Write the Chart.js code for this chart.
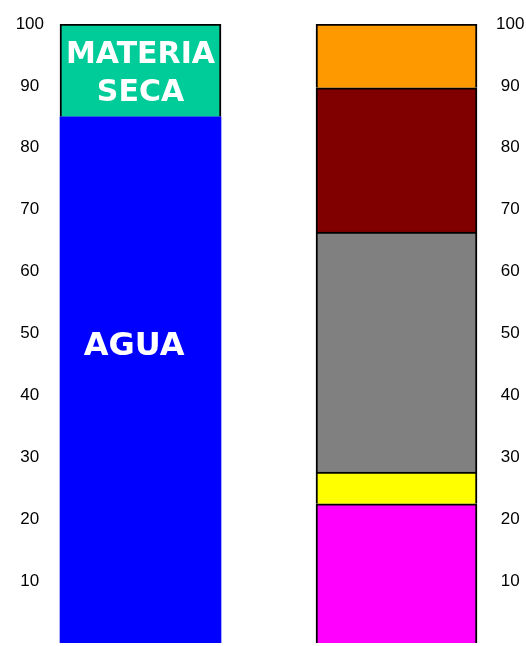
<!DOCTYPE html>
<html>
<head>
<meta charset="utf-8">
<script src="https://cdn.jsdelivr.net/npm/chart.js@4.4.0/dist/chart.umd.min.js"></script>
<style>
  html, body { margin: 0; padding: 0; background: #fff; }
  canvas { display: block; }
</style>
</head>
<body>
<canvas id="myChart" width="526" height="646"></canvas>
<script>
// column positions on the x scale
const columns = [0, 1];

// left column (%)
const agua = [85];
const materiaSeca = [15];

// right column, bottom to top (%)
const rightNames = ['magenta', 'amarillo', 'gris', 'granate', 'naranja'];
const rightValues = [22.5, 5.1, 38.8, 23.3, 10.3];
const rightColors = ['#FF00FF', '#FFFF00', '#808080', '#800000', '#FF9900'];

// y axis
const yMin = 0, yMax = 100, yStep = 10;

// text written inside the left column
const textLabels = [
  { text: 'MATERIA', x: 0, y: 95.0, size: 30 },
  { text: 'SECA', x: 0, y: 88.9, size: 30 },
  { text: 'AGUA', x: -0.025, y: 47.8, size: 32 }
];

const datasets = [
  { label: 'AGUA', data: [{ x: columns[0], y: agua[0] }], backgroundColor: '#0000FF', borderWidth: 0 },
  { label: 'MATERIA SECA', data: [{ x: columns[0], y: materiaSeca[0] }], backgroundColor: '#00CC99', borderColor: '#000', borderWidth: 2 }
];
rightValues.forEach((v, i) => {
  datasets.push({
    label: rightNames[i],
    data: [{ x: columns[1], y: v }],
    backgroundColor: rightColors[i],
    borderColor: '#000',
    borderWidth: 2
  });
});

const innerText = {
  id: 'innerText',
  afterDatasetsDraw(chart) {
    const { ctx, scales } = chart;
    ctx.save();
    ctx.fillStyle = '#fff';
    ctx.textAlign = 'center';
    ctx.textBaseline = 'middle';
    textLabels.forEach(l => {
      ctx.font = 'bold ' + l.size + 'px "Comic Sans MS", "DejaVu Sans", sans-serif';
      ctx.fillText(l.text, scales.x.getPixelForValue(l.x), scales.y.getPixelForValue(l.y));
    });
    ctx.restore();
  }
};

const tickFont = { family: '"Liberation Sans", Arial, sans-serif', size: 17 };
const yTicks = {
  stepSize: yStep,
  color: '#000',
  font: tickFont,
  crossAlign: 'center',
  padding: 6,
  callback: v => (v === 0 ? null : v)
};

// fixed axis width, no extra padding from the end labels
const fitAxis = w => s => {
  s.width = w;
  s.paddingTop = 0;
  s.paddingBottom = 0;
};

const ctx = document.getElementById('myChart');

new Chart(ctx, {
  type: 'bar',
  data: { datasets: datasets },
  options: {
    responsive: false,
    animation: false,
    datasets: {
      bar: { stack: 's', barThickness: 161 }
    },
    layout: { padding: { top: 24, bottom: 3, left: 0, right: 0 } },
    plugins: {
      legend: { display: false },
      tooltip: { enabled: false }
    },
    scales: {
      x: {
        type: 'linear',
        display: false,
        offset: false,
        bounds: 'data',
        min: -0.35352,
        max: 1.36523,
        stacked: true
      },
      y: {
        position: 'left',
        stacked: true,
        min: yMin,
        max: yMax,
        grid: { display: false, drawTicks: false },
        border: { display: false },
        ticks: yTicks,
        afterFit: fitAxis(50)
      },
      y2: {
        position: 'right',
        display: true,
        min: yMin,
        max: yMax,
        grid: { display: false, drawTicks: false },
        border: { display: false },
        ticks: yTicks,
        afterFit: fitAxis(36)
      }
    }
  },
  plugins: [innerText]
});
</script>
</body>
</html>
